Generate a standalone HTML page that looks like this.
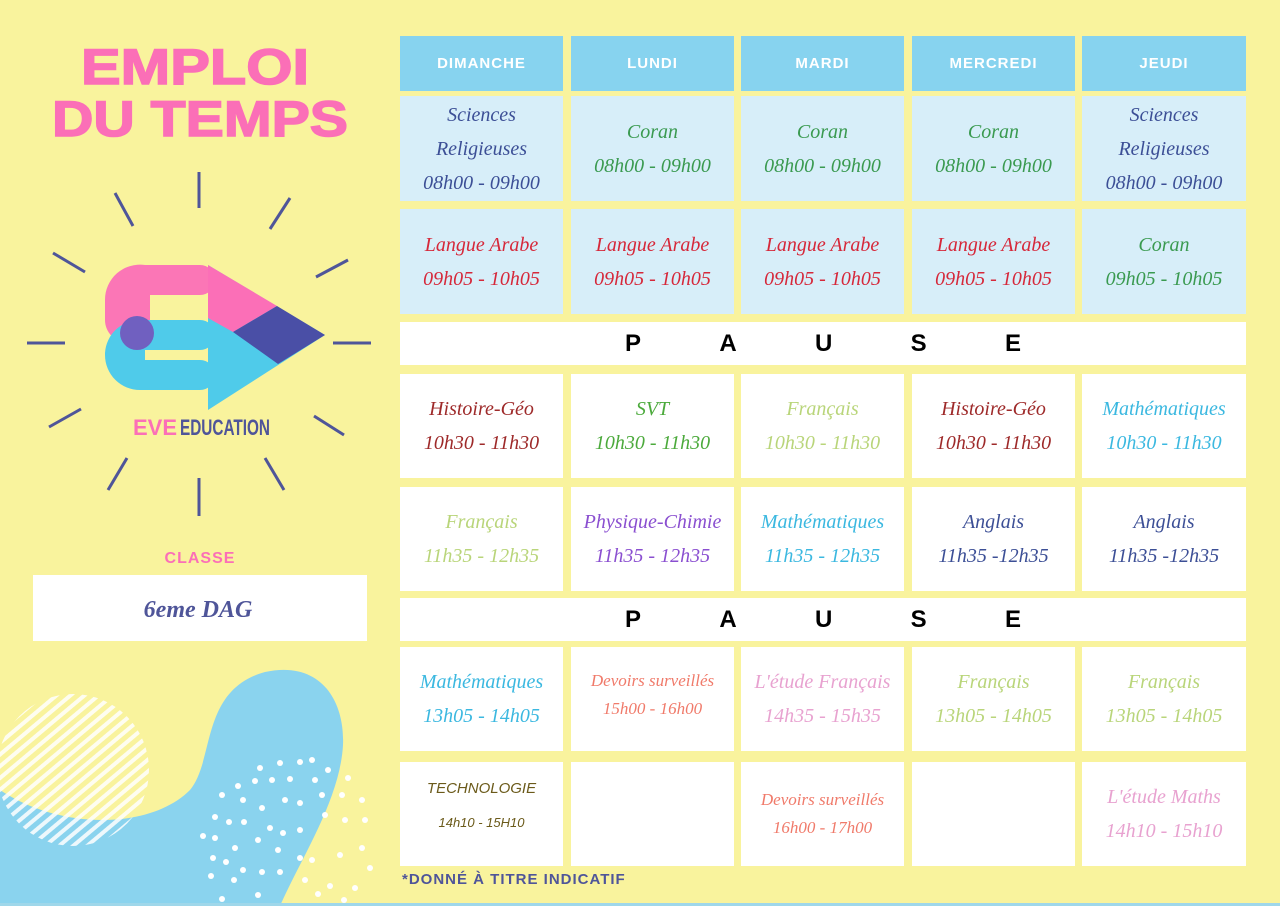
<!DOCTYPE html>
<html><head><meta charset="utf-8"><style>
body{margin:0;width:1280px;height:906px;background:#f9f39d;position:relative;overflow:hidden;font-family:"Liberation Sans",sans-serif}
.c{position:absolute;display:flex;flex-direction:column;align-items:center;justify-content:center;text-align:center;font-family:"Liberation Serif",serif;font-style:italic;font-size:20px;line-height:34px}
.h{background:#87d3ef;color:#fff;font-family:"Liberation Sans",sans-serif;font-style:normal;font-weight:bold;font-size:15px;letter-spacing:1px}
.b{background:#d7eef9}.w{background:#fff}
.p{position:absolute;left:400px;width:846px;background:#fff;font-weight:bold;font-size:24px;display:flex;justify-content:space-between;align-items:center;padding:0 225px 0 225px;box-sizing:border-box}
</style></head><body>
<svg style="position:absolute;left:0;top:0" width="400" height="906">
<defs>
<pattern id="st" width="9" height="9" patternUnits="userSpaceOnUse" patternTransform="rotate(-40)">
<rect width="9" height="4" fill="#fff"/></pattern>
<clipPath id="cc"><circle cx="73" cy="770" r="76"/></clipPath>
</defs>
<path d="M0 790 C60 830 150 830 190 790 C215 760 200 690 265 672 C320 660 345 700 343 745 C340 800 300 860 280 906 L0 906Z" fill="#8ad3ee"/>
<rect x="-5" y="690" width="160" height="160" fill="url(#st)" clip-path="url(#cc)" opacity=".85"/>
<g fill="#fff">
<circle cx="260" cy="768" r="3"/><circle cx="280" cy="763" r="3"/><circle cx="300" cy="762" r="3"/><circle cx="312" cy="760" r="3"/><circle cx="328" cy="770" r="3"/>
<circle cx="238" cy="786" r="3"/><circle cx="255" cy="781" r="3"/><circle cx="272" cy="780" r="3"/><circle cx="290" cy="779" r="3"/><circle cx="315" cy="780" r="3"/><circle cx="348" cy="778" r="3"/>
<circle cx="222" cy="795" r="3"/><circle cx="243" cy="800" r="3"/><circle cx="262" cy="808" r="3"/><circle cx="285" cy="800" r="3"/><circle cx="300" cy="803" r="3"/><circle cx="322" cy="795" r="3"/><circle cx="342" cy="795" r="3"/><circle cx="362" cy="800" r="3"/>
<circle cx="215" cy="817" r="3"/><circle cx="229" cy="822" r="3"/><circle cx="244" cy="822" r="3"/><circle cx="270" cy="828" r="3"/><circle cx="283" cy="833" r="3"/><circle cx="300" cy="830" r="3"/><circle cx="325" cy="815" r="3"/><circle cx="345" cy="820" r="3"/><circle cx="365" cy="820" r="3"/>
<circle cx="203" cy="836" r="3"/><circle cx="215" cy="838" r="3"/><circle cx="235" cy="848" r="3"/><circle cx="258" cy="840" r="3"/><circle cx="278" cy="850" r="3"/><circle cx="300" cy="858" r="3"/><circle cx="312" cy="860" r="3"/><circle cx="340" cy="855" r="3"/><circle cx="362" cy="848" r="3"/><circle cx="370" cy="868" r="3"/>
<circle cx="213" cy="858" r="3"/><circle cx="226" cy="862" r="3"/><circle cx="243" cy="870" r="3"/><circle cx="262" cy="872" r="3"/><circle cx="280" cy="872" r="3"/><circle cx="305" cy="880" r="3"/><circle cx="330" cy="886" r="3"/><circle cx="355" cy="888" r="3"/>
<circle cx="211" cy="876" r="3"/><circle cx="234" cy="880" r="3"/><circle cx="258" cy="895" r="3"/><circle cx="222" cy="899" r="3"/><circle cx="318" cy="894" r="3"/><circle cx="344" cy="900" r="3"/>
</g>
<g stroke="#4f5599" stroke-width="3">
<line x1="199" y1="172" x2="199" y2="208"/><line x1="199" y1="478" x2="199" y2="516"/>
<line x1="27" y1="343" x2="65" y2="343"/><line x1="333" y1="343" x2="371" y2="343"/>
<line x1="115" y1="193" x2="133" y2="226"/><line x1="290" y1="198" x2="270" y2="229"/>
<line x1="53" y1="253" x2="85" y2="272"/><line x1="348" y1="260" x2="316" y2="277"/>
<line x1="49" y1="427" x2="81" y2="409"/><line x1="344" y1="435" x2="314" y2="416"/>
<line x1="108" y1="490" x2="127" y2="458"/><line x1="284" y1="490" x2="265" y2="458"/>
</g>
<path d="M145 265 h55 a15 15 0 0 1 0 30 h-50 v25 a22 22 0 0 1 -45 0 v-20 a35 35 0 0 1 40 -35z" fill="#fb6fb7" opacity=".95"/>
<path d="M140 320 h60 a15 15 0 0 1 0 30 h-55 v10 h55 a15 15 0 0 1 0 30 h-60 a35 35 0 0 1 -35 -35 v-2 a35 35 0 0 1 35 -33z" fill="#4fcbea"/>
<circle cx="137" cy="333" r="17" fill="#7060c0"/>
<path d="M208 265 L325 335 L208 410Z" fill="#4fcbea"/>
<path d="M208 265 L277 306 L233 332 L208 318Z" fill="#fb6fb7"/>
<path d="M277 306 L325 335 L278 364 L233 332Z" fill="#4a4fa6"/>
<text x="133" y="435" font-family="Liberation Sans" font-size="22" font-weight="bold" fill="#fb6fb7" textLength="44" lengthAdjust="spacingAndGlyphs">EVE</text>
<text x="180" y="435" font-family="Liberation Sans" font-size="22" font-weight="bold" fill="#4f5599" textLength="90" lengthAdjust="spacingAndGlyphs">EDUCATION</text>
<text x="195" y="84" text-anchor="middle" font-family="Liberation Sans" font-weight="900" font-size="50" fill="#fb6fb7" stroke="#fb6fb7" stroke-width="1.5" textLength="228" lengthAdjust="spacingAndGlyphs">EMPLOI</text>
<text x="200" y="136" text-anchor="middle" font-family="Liberation Sans" font-weight="900" font-size="50" fill="#fb6fb7" stroke="#fb6fb7" stroke-width="1.5" textLength="296" lengthAdjust="spacingAndGlyphs">DU TEMPS</text>
<text x="200" y="563" text-anchor="middle" font-family="Liberation Sans" font-weight="bold" font-size="16" fill="#fb6fb7" letter-spacing="1">CLASSE</text>
<rect x="33" y="575" width="334" height="66" fill="#fff"/>
<text x="198" y="617" text-anchor="middle" font-family="Liberation Serif" font-style="italic" font-weight="bold" font-size="24" fill="#4f5599">6eme DAG</text>
</svg>
<div style="position:absolute;left:0;top:903px;width:1280px;height:3px;background:#9fd7ea"></div>

<div class="c h" style="left:400px;top:36px;width:163px;height:55px">DIMANCHE</div>
<div class="c h" style="left:571px;top:36px;width:163px;height:55px">LUNDI</div>
<div class="c h" style="left:741px;top:36px;width:163px;height:55px">MARDI</div>
<div class="c h" style="left:912px;top:36px;width:163px;height:55px">MERCREDI</div>
<div class="c h" style="left:1082px;top:36px;width:164px;height:55px">JEUDI</div>

<div class="c b" style="left:400px;top:96px;width:163px;height:105px;color:#3c4f96">Sciences<br>Religieuses<br>08h00 - 09h00</div>
<div class="c b" style="left:571px;top:96px;width:163px;height:105px;color:#3a9a50">Coran<br>08h00 - 09h00</div>
<div class="c b" style="left:741px;top:96px;width:163px;height:105px;color:#3a9a50">Coran<br>08h00 - 09h00</div>
<div class="c b" style="left:912px;top:96px;width:163px;height:105px;color:#3a9a50">Coran<br>08h00 - 09h00</div>
<div class="c b" style="left:1082px;top:96px;width:164px;height:105px;color:#3c4f96">Sciences<br>Religieuses<br>08h00 - 09h00</div>

<div class="c b" style="left:400px;top:209px;width:163px;height:105px;color:#d6283a">Langue Arabe<br>09h05 - 10h05</div>
<div class="c b" style="left:571px;top:209px;width:163px;height:105px;color:#d6283a">Langue Arabe<br>09h05 - 10h05</div>
<div class="c b" style="left:741px;top:209px;width:163px;height:105px;color:#d6283a">Langue Arabe<br>09h05 - 10h05</div>
<div class="c b" style="left:912px;top:209px;width:163px;height:105px;color:#d6283a">Langue Arabe<br>09h05 - 10h05</div>
<div class="c b" style="left:1082px;top:209px;width:164px;height:105px;color:#3a9a50">Coran<br>09h05 - 10h05</div>

<div class="p" style="top:322px;height:43px"><span>P</span><span>A</span><span>U</span><span>S</span><span>E</span></div>

<div class="c w" style="left:400px;top:374px;width:163px;height:104px;color:#9e2a2a">Histoire-Géo<br>10h30 - 11h30</div>
<div class="c w" style="left:571px;top:374px;width:163px;height:104px;color:#4caa3c">SVT<br>10h30 - 11h30</div>
<div class="c w" style="left:741px;top:374px;width:163px;height:104px;color:#b9d57a">Français<br>10h30 - 11h30</div>
<div class="c w" style="left:912px;top:374px;width:163px;height:104px;color:#9e2a2a">Histoire-Géo<br>10h30 - 11h30</div>
<div class="c w" style="left:1082px;top:374px;width:164px;height:104px;color:#3bb8e0">Mathématiques<br>10h30 - 11h30</div>

<div class="c w" style="left:400px;top:487px;width:163px;height:104px;color:#b9d57a">Français<br>11h35 - 12h35</div>
<div class="c w" style="left:571px;top:487px;width:163px;height:104px;color:#8a4fd0">Physique-Chimie<br>11h35 - 12h35</div>
<div class="c w" style="left:741px;top:487px;width:163px;height:104px;color:#3bb8e0">Mathématiques<br>11h35 - 12h35</div>
<div class="c w" style="left:912px;top:487px;width:163px;height:104px;color:#3c4f96">Anglais<br>11h35 -12h35</div>
<div class="c w" style="left:1082px;top:487px;width:164px;height:104px;color:#3c4f96">Anglais<br>11h35 -12h35</div>

<div class="p" style="top:598px;height:43px"><span>P</span><span>A</span><span>U</span><span>S</span><span>E</span></div>

<div class="c w" style="left:400px;top:647px;width:163px;height:104px;color:#3bb8e0">Mathématiques<br>13h05 - 14h05</div>
<div class="c w" style="left:571px;top:647px;width:163px;height:104px;color:#f07a6a;font-size:17px;line-height:28px;justify-content:flex-start;padding-top:20px;box-sizing:border-box">Devoirs surveillés<br>15h00 - 16h00</div>
<div class="c w" style="left:741px;top:647px;width:163px;height:104px;color:#e8a2d0">L'étude Français<br>14h35 - 15h35</div>
<div class="c w" style="left:912px;top:647px;width:163px;height:104px;color:#b9d57a">Français<br>13h05 - 14h05</div>
<div class="c w" style="left:1082px;top:647px;width:164px;height:104px;color:#b9d57a">Français<br>13h05 - 14h05</div>

<div class="c w" style="left:400px;top:762px;width:163px;height:104px;color:#6b5a1a;font-family:'Liberation Sans',sans-serif;font-size:15px;justify-content:flex-start;padding-top:10px;box-sizing:border-box">TECHNOLOGIE<br><span style="font-size:13px">14h10 - 15H10</span></div>
<div class="c w" style="left:571px;top:762px;width:163px;height:104px"></div>
<div class="c w" style="left:741px;top:762px;width:163px;height:104px;color:#f07a6a;font-size:17px;line-height:28px">Devoirs surveillés<br>16h00 - 17h00</div>
<div class="c w" style="left:912px;top:762px;width:163px;height:104px"></div>
<div class="c w" style="left:1082px;top:762px;width:164px;height:104px;color:#e8a2d0">L'étude Maths<br>14h10 - 15h10</div>

<div style="position:absolute;left:402px;top:871px;font-weight:bold;font-size:15px;color:#4f5599;letter-spacing:1px">*DONNÉ À TITRE INDICATIF</div>
</body></html>
